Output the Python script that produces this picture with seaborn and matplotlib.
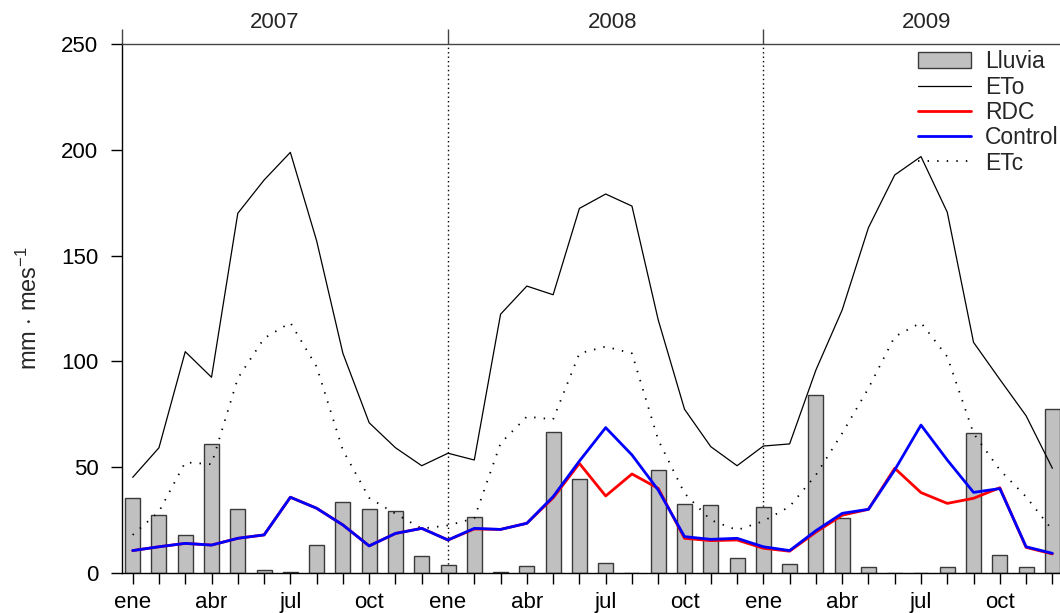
import numpy as np
import pandas as pd
import matplotlib
matplotlib.use("Agg")
import matplotlib.pyplot as plt
import matplotlib.transforms as mtransforms
from matplotlib.patches import Patch
from matplotlib.lines import Line2D
import seaborn as sns

# Monthly series, January 2007 - December 2009 (mm per month)
lluvia = [35.3, 27.3, 17.8, 60.8, 30.1, 1.3, 0.6, 13.4, 33.4, 30.4, 29.1, 7.9,
          3.6, 26.3, 0.6, 3.5, 66.8, 44.4, 4.7, 0.0, 48.5, 32.4, 32.3, 6.9,
          31.2, 4.1, 84.1, 25.8, 2.7, 0.0, 0.0, 3.0, 66.0, 8.4, 2.7, 77.7]
eto = [45.2, 59.2, 104.6, 92.5, 170.0, 185.7, 198.8, 157.0, 103.8, 71.0, 59.2, 50.7,
       56.6, 53.4, 122.3, 135.6, 131.5, 172.3, 179.1, 173.4, 119.6, 77.4, 59.7, 50.7,
       60.0, 61.0, 95.9, 124.3, 163.2, 188.1, 196.8, 170.5, 109.0, 91.5, 74.3, 49.5]
etc = [18.0, 29.0, 52.3, 51.4, 92.0, 110.9, 118.3, 97.5, 58.0, 35.5, 28.0, 21.0,
       22.5, 25.8, 61.3, 73.9, 72.6, 103.8, 107.0, 103.8, 62.9, 37.7, 25.0, 20.3,
       24.5, 31.4, 46.3, 66.0, 87.3, 111.7, 118.3, 102.2, 66.0, 48.7, 36.0, 20.3]
control = [10.6, 12.4, 14.0, 13.2, 16.4, 18.0, 35.8, 30.6, 22.7, 12.8, 18.7, 21.1,
           15.6, 21.1, 20.6, 23.5, 36.1, 52.9, 68.7, 55.8, 39.2, 17.2, 15.9, 16.4,
           12.4, 10.6, 20.0, 28.2, 30.1, 48.7, 69.9, 53.4, 38.1, 39.9, 12.4, 9.3]
rdc = [10.6, 12.4, 14.0, 13.2, 16.4, 18.0, 35.8, 30.6, 22.7, 12.8, 18.7, 21.1,
       15.6, 20.8, 20.6, 23.5, 35.5, 51.8, 36.4, 46.8, 40.0, 16.4, 15.3, 15.6,
       11.7, 10.3, 19.3, 27.3, 30.1, 49.5, 38.0, 32.9, 35.3, 40.3, 12.1, 9.0]

years = ["2007", "2008", "2009"]
month_names = ["ene", "feb", "mar", "abr", "may", "jun",
               "jul", "ago", "sep", "oct", "nov", "dic"]
labelled_months = ["ene", "abr", "jul", "oct"]

n = len(lluvia)
df = pd.DataFrame({
    "mes": np.arange(n),
    "Lluvia": lluvia, "ETo": eto, "ETc": etc,
    "Control": control, "RDC": rdc,
})

sns.set_theme(style="white")
plt.rcParams["font.family"] = ["Liberation Sans", "DejaVu Sans"]
plt.rcParams["mathtext.fontset"] = "custom"
plt.rcParams["mathtext.rm"] = "Liberation Sans"
plt.rcParams["mathtext.it"] = "Liberation Sans:italic"
FS = 16

fig = plt.figure(figsize=(10.6, 6.13), dpi=100)
ax = fig.add_axes([122 / 1060, 40 / 613, 938 / 1060, 529 / 613])

sns.barplot(data=df, x="mes", y="Lluvia", color="#c0c0c0", saturation=1,
            edgecolor="#3a3a3a", linewidth=1.0, width=0.57, ax=ax, zorder=2)
sns.lineplot(data=df, x="mes", y="ETo", color="black", lw=0.9, ax=ax, zorder=3)
sns.lineplot(data=df, x="mes", y="ETc", color="black", lw=1.3,
             linestyle=(0, (0.8, 4.5)), ax=ax, zorder=3)
sns.lineplot(data=df, x="mes", y="RDC", color="#ff0000", lw=2.0, ax=ax, zorder=4)
sns.lineplot(data=df, x="mes", y="Control", color="#0000ff", lw=2.0, ax=ax, zorder=5)

# year separators
for b in (12, 24):
    ax.axvline(b, color="black", lw=1.0, linestyle=(0, (1, 2.2)), zorder=1)

xl = (-0.407, 35.29)
ax.set_xlim(*xl)
ax.set_ylim(0, 250)

# axes frame: left, bottom and top
ax.spines["right"].set_visible(False)
for side in ("left", "bottom", "top"):
    ax.spines[side].set_color("black")
    ax.spines[side].set_linewidth(1.0)
ax.spines["top"].set_color("#444444")

ax.set_yticks([0, 50, 100, 150, 200, 250])
ax.set_yticklabels(["0", "50", "100", "150", "200", "250"], fontsize=FS)
ax.set_xticks(np.arange(n))
ax.set_xticklabels([month_names[i % 12] if month_names[i % 12] in labelled_months else ""
                    for i in range(n)], fontsize=FS)
ax.tick_params(axis="y", direction="out", length=8, width=1.0, pad=9,
               left=True, colors="black")
ax.tick_params(axis="x", direction="out", length=8, width=1.0, pad=6,
               bottom=True, colors="black")
ax.set_xlabel("")
ax.set_ylabel(r"mm $\cdot$ mes$^{-1}$", fontsize=FS + 1, labelpad=14)

# year marks above the top spine
top = ax.secondary_xaxis("top")
top.set_xticks([xl[0], 12, 24])
top.set_xticklabels(["", "", ""])
top.tick_params(direction="out", length=11, width=1.0, colors="#444444")
top.spines["top"].set_visible(False)

trans = mtransforms.blended_transform_factory(ax.transData, ax.transAxes)
for x, yr in zip((5.4, 18.25, 30.2), years):
    ax.text(x, 1.04, yr, transform=trans, ha="center", va="center", fontsize=FS)

handles = [
    Patch(facecolor="#c0c0c0", edgecolor="#3a3a3a", linewidth=1.0, label="Lluvia"),
    Line2D([], [], color="black", lw=0.9, label="ETo"),
    Line2D([], [], color="#ff0000", lw=2.0, label="RDC"),
    Line2D([], [], color="#0000ff", lw=2.0, label="Control"),
    Line2D([], [], color="black", lw=1.3, linestyle=(0, (0.8, 4.5)), label="ETc"),
]
ax.legend(handles=handles, loc="upper right", bbox_to_anchor=(1.013, 1.014),
          frameon=False, fontsize=16.5, handlelength=2.3, handletextpad=0.6,
          labelspacing=0.1, borderaxespad=0.2)

fig.savefig("out.png", dpi=100)
